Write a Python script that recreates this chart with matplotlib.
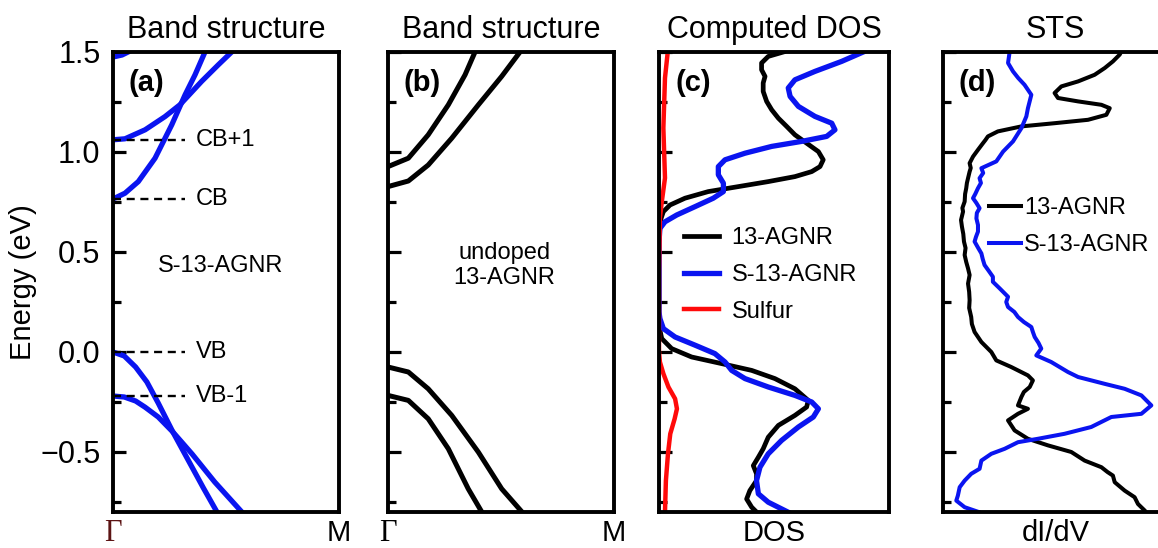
import matplotlib
matplotlib.use("Agg")
import matplotlib.pyplot as plt
from matplotlib.ticker import MultipleLocator, NullFormatter

plt.rcParams['font.family'] = ['Liberation Sans', 'DejaVu Sans']
plt.rcParams['axes.unicode_minus'] = True

# ---------------- data ----------------
# Panel (a): S-13-AGNR band structure (k from Gamma=0 to M=1, energy in eV)
a_vb_k = [0, 0.05, 0.10, 0.15, 0.20, 0.265, 0.33, 0.40, 0.46]
a_vb_e = [0, -0.02, -0.075, -0.15, -0.255, -0.40, -0.535, -0.68, -0.80]
a_vb1_k = [0, 0.05, 0.10, 0.142, 0.20, 0.265, 0.35, 0.45, 0.57]
a_vb1_e = [-0.22, -0.225, -0.245, -0.276, -0.325, -0.40, -0.51, -0.65, -0.80]
a_cb_k = [0, 0.053, 0.112, 0.186, 0.26, 0.319, 0.363, 0.407]
a_cb_e = [0.765, 0.794, 0.852, 0.969, 1.136, 1.286, 1.386, 1.50]
a_cb1_k = [0, 0.053, 0.142, 0.23, 0.296, 0.392, 0.466, 0.525]
a_cb1_e = [1.061, 1.066, 1.111, 1.177, 1.236, 1.353, 1.436, 1.50]
a_cb2_k = [0, 0.04, 0.085]
a_cb2_e = [1.475, 1.485, 1.51]
a_levels = [1.061, 0.765, 0.0, -0.22]
a_level_names = ["CB+1", "CB", "VB", "VB-1"]

# Panel (b): undoped 13-AGNR band structure
b_c1_k = [0, 0.09, 0.178, 0.267, 0.341, 0.385]
b_c1_e = [0.927, 0.969, 1.086, 1.236, 1.386, 1.50]
b_c2_k = [0, 0.09, 0.178, 0.282, 0.40, 0.503, 0.584]
b_c2_e = [0.827, 0.855, 0.935, 1.069, 1.236, 1.378, 1.50]
b_v1_k = [0, 0.09, 0.178, 0.282, 0.40, 0.503, 0.593]
b_v1_e = [-0.075, -0.10, -0.184, -0.317, -0.501, -0.684, -0.80]
b_v2_k = [0, 0.09, 0.178, 0.267, 0.355, 0.415]
b_v2_e = [-0.217, -0.242, -0.334, -0.484, -0.684, -0.80]

# Panel (c): computed DOS (arb. units) vs energy
c_agnr_e = [1.50, 1.478, 1.445, 1.411, 1.378, 1.345, 1.303, 1.253, 1.211, 1.169, 1.128,
            1.086, 1.044, 1.002, 0.961, 0.927, 0.902, 0.877, 0.852, 0.827, 0.802,
            0.769, 0.735, 0.702, 0.668, 0.626, 0.55, 0.20, 0.109, 0.067, 0.017,
            -0.025, -0.058, -0.092, -0.133, -0.184, -0.242, -0.275, -0.317, -0.367,
            -0.426, -0.484, -0.526, -0.568, -0.609, -0.643, -0.693, -0.735, -0.776, -0.80]
c_agnr_d = [0.541, 0.475, 0.446, 0.446, 0.461, 0.453, 0.453, 0.468, 0.49, 0.519, 0.555,
            0.591, 0.642, 0.693, 0.714, 0.70, 0.664, 0.591, 0.475, 0.345, 0.214,
            0.113, 0.048, 0.019, 0.009, 0.004, 0.0, 0.0, 0.004, 0.012, 0.055,
            0.142, 0.272, 0.403, 0.504, 0.591, 0.649, 0.642, 0.591, 0.519,
            0.475, 0.453, 0.432, 0.41, 0.424, 0.424, 0.395, 0.381, 0.403, 0.424]
c_s_e = [1.50, 1.453, 1.403, 1.361, 1.32, 1.278, 1.228, 1.178, 1.144, 1.111, 1.078,
         1.053, 1.028, 0.994, 0.961, 0.927, 0.886, 0.844, 0.802, 0.769, 0.727, 0.685,
         0.651, 0.618, 0.55, 0.20, 0.167, 0.117, 0.075, 0.034, -0.008, -0.05, -0.092,
         -0.133, -0.175, -0.217, -0.25, -0.284, -0.325, -0.375, -0.442, -0.509,
         -0.576, -0.643, -0.709, -0.751, -0.80]
c_s_d = [0.888, 0.794, 0.678, 0.591, 0.562, 0.57, 0.606, 0.678, 0.751, 0.765, 0.729,
         0.62, 0.49, 0.374, 0.287, 0.258, 0.258, 0.28, 0.28, 0.236, 0.157, 0.077,
         0.026, 0.004, 0.0, 0.0, 0.004, 0.019, 0.07, 0.157, 0.243, 0.287, 0.316,
         0.374, 0.475, 0.591, 0.664, 0.693, 0.671, 0.606, 0.533, 0.475,
         0.439, 0.424, 0.432, 0.475, 0.56]
c_sul_e = [1.50, 1.37, 1.12, 0.87, 0.75, 0.67, 0.40, 0.0, -0.05, -0.108, -0.175,
           -0.234, -0.284, -0.334, -0.409, -0.509, -0.643, -0.80]
c_sul_d = [0.038, 0.026, 0.019, 0.026, 0.012, 0.004, 0.0, 0.0, 0.004, 0.019, 0.041,
           0.07, 0.078, 0.068, 0.049, 0.039, 0.03, 0.026]

# Panel (d): STS dI/dV (arb. units) vs energy
d_agnr_e = [1.50, 1.487, 1.453, 1.42, 1.386, 1.353, 1.328, 1.295, 1.27, 1.253, 1.236,
            1.219, 1.186, 1.161, 1.144, 1.128, 1.103, 1.078, 1.06, 1.044, 1.011, 0.977,
            0.944, 0.92, 0.902, 0.869, 0.845, 0.819, 0.79, 0.752, 0.72, 0.702, 0.66,
            0.627, 0.59, 0.552, 0.52, 0.485, 0.45, 0.418, 0.385, 0.342, 0.30, 0.259,
            0.22, 0.175, 0.14, 0.10, 0.05, 0.0, -0.042, -0.075, -0.117, -0.142,
            -0.175, -0.20, -0.225, -0.267, -0.284, -0.309, -0.342, -0.392, -0.434,
            -0.467, -0.50, -0.543, -0.576, -0.60, -0.618, -0.651, -0.693, -0.726,
            -0.76, -0.793, -0.80]
d_agnr_d = [0.79, 0.784, 0.754, 0.718, 0.673, 0.60, 0.526, 0.496, 0.511, 0.60, 0.703,
            0.74, 0.725, 0.644, 0.496, 0.349, 0.245, 0.201, 0.19, 0.179, 0.157, 0.135,
            0.12, 0.125, 0.12, 0.113, 0.108, 0.105, 0.10, 0.098, 0.088, 0.091, 0.082,
            0.086, 0.092, 0.095, 0.102, 0.098, 0.105, 0.113, 0.12, 0.113, 0.118, 0.12,
            0.118, 0.127, 0.13, 0.142, 0.172, 0.216, 0.238, 0.304, 0.378, 0.40,
            0.386, 0.36, 0.349, 0.334, 0.378, 0.334, 0.29, 0.319, 0.378,
            0.467, 0.57, 0.629, 0.703, 0.73, 0.754, 0.762, 0.806, 0.85,
            0.865, 0.895, 0.90]
d_s_e = [1.50, 1.445, 1.403, 1.37, 1.336, 1.286, 1.25, 1.219, 1.178, 1.119, 1.053,
         1.002, 0.953, 0.919, 0.895, 0.869, 0.845, 0.819, 0.79, 0.769, 0.745, 0.719,
         0.695, 0.668, 0.635, 0.602, 0.575, 0.552, 0.52, 0.493, 0.465, 0.435, 0.405,
         0.376, 0.351, 0.318, 0.276, 0.25, 0.225, 0.20, 0.175, 0.15, 0.125, 0.10,
         0.075, 0.045, 0.017, -0.017, -0.05, -0.10, -0.125, -0.159, -0.184, -0.217,
         -0.267, -0.309, -0.325, -0.375, -0.409, -0.434, -0.451, -0.484, -0.509,
         -0.543, -0.584, -0.609, -0.643, -0.676, -0.718, -0.743, -0.776, -0.80]
d_s_d = [0.297, 0.29, 0.312, 0.335, 0.363, 0.393, 0.385, 0.378, 0.371, 0.349, 0.312,
         0.268, 0.238, 0.172, 0.18, 0.164, 0.17, 0.157, 0.145, 0.135, 0.15, 0.164,
         0.152, 0.15, 0.157, 0.157, 0.148, 0.142, 0.158, 0.172, 0.178, 0.186, 0.205,
         0.223, 0.223, 0.253, 0.29, 0.282, 0.29, 0.318, 0.334, 0.36, 0.393, 0.40,
         0.408, 0.425, 0.437, 0.415, 0.481, 0.555, 0.60, 0.717, 0.806, 0.88,
         0.924, 0.88, 0.747, 0.658, 0.54, 0.422, 0.334, 0.275, 0.216,
         0.172, 0.164, 0.127, 0.098, 0.076, 0.068, 0.061, 0.098, 0.16]

panel_titles = ["Band structure", "Band structure", "Computed DOS", "STS"]
panel_tags = ["(a)", "(b)", "(c)", "(d)"]

# ---------------- figure ----------------
W, H = 1158, 548
fig = plt.figure(figsize=(W / 100, H / 100), dpi=100)

def px_axes(left, width, top=52, bottom=512):
    return fig.add_axes([left / W, 1 - bottom / H, width / W, (bottom - top) / H])

axs = [px_axes(113, 226), px_axes(388, 226), px_axes(659, 230), px_axes(942.5, 226)]

BLUE = "#0a14f0"
ylo, yhi = -0.80, 1.50
for i, ax in enumerate(axs):
    ax.set_ylim(ylo, yhi)
    ax.set_xlim(0, 1)
    for s in ax.spines.values():
        s.set_linewidth(2.8)
    ax.yaxis.set_major_locator(MultipleLocator(0.5))
    ax.yaxis.set_minor_locator(MultipleLocator(0.25))
    ax.tick_params(axis='y', which='major', direction='in', length=9.5, width=2.3,
                   labelsize=22, right=False, pad=9)
    ax.tick_params(axis='y', which='minor', direction='in', length=5.5, width=2.3, right=False)
    ax.tick_params(axis='x', which='both', length=0, labelsize=21, pad=5)
    if i > 0:
        ax.yaxis.set_major_formatter(NullFormatter())
    ax.set_title(panel_titles[i], fontsize=22, pad=10)
    ax.text(0.07, 0.933, panel_tags[i], transform=ax.transAxes, fontsize=21,
            fontweight='bold', ha='left', va='center')

# (a)
ax = axs[0]
for k, e in [(a_vb_k, a_vb_e), (a_vb1_k, a_vb1_e), (a_cb_k, a_cb_e),
             (a_cb1_k, a_cb1_e), (a_cb2_k, a_cb2_e)]:
    ax.plot(k, e, color=BLUE, lw=3.8)
for lev, name in zip(a_levels, a_level_names):
    ax.plot([0, 0.32], [lev, lev], color='black', lw=1.7, linestyle=(0, (3.4, 2.4)))
    ax.text(0.365, lev, name, fontsize=17, ha='left', va='center')
ax.text(0.475, 0.432, "S-13-AGNR", fontsize=17, ha='center', va='center')
ax.set_ylabel("Energy (eV)", fontsize=21, labelpad=2)
ax.set_xticks([0, 1])
ax.set_xticklabels(["Γ", "M"])
tl = ax.get_xticklabels()
tl[0].set_fontfamily(['Liberation Serif', 'DejaVu Serif'])
tl[0].set_color('#5c1414')
tl[0].set_fontsize(22)

# (b)
ax = axs[1]
for k, e in [(b_c1_k, b_c1_e), (b_c2_k, b_c2_e), (b_v1_k, b_v1_e), (b_v2_k, b_v2_e)]:
    ax.plot(k, e, color='black', lw=3.6)
ax.text(0.515, 0.432, "undoped\n13-AGNR", fontsize=17, ha='center', va='center',
        linespacing=1.15)
ax.set_xticks([0, 1])
ax.set_xticklabels(["Γ", "M"])
tl = ax.get_xticklabels()
tl[0].set_fontfamily(['Liberation Serif', 'DejaVu Serif'])
tl[0].set_fontsize(22)

# (c)
ax = axs[2]
ax.plot(c_agnr_d, c_agnr_e, color='black', lw=3.4, label="13-AGNR")
ax.plot(c_s_d, c_s_e, color=BLUE, lw=3.8, label="S-13-AGNR")
ax.plot(c_sul_d, c_sul_e, color='#ff0a0a', lw=3.2, label="Sulfur")
ax.set_xticks([0.5])
ax.set_xticklabels(["DOS"])
ax.legend(loc='center left', bbox_to_anchor=(0.11, 0.515), frameon=False,
          fontsize=17, handlelength=1.45, handletextpad=0.55, labelspacing=0.62,
          borderpad=0, borderaxespad=0)

# (d)
ax = axs[3]
ax.plot(d_agnr_d, d_agnr_e, color='black', lw=2.9, label="13-AGNR")
ax.plot(d_s_d, d_s_e, color=BLUE, lw=2.9, label="S-13-AGNR")
ax.set_xticks([0.5])
ax.set_xticklabels(["dI/dV"])
ax.legend(loc='center left', bbox_to_anchor=(0.205, 0.62), frameon=False,
          fontsize=17, handlelength=1.35, handletextpad=0.15, labelspacing=0.62,
          borderpad=0, borderaxespad=0)

fig.savefig("out.png", dpi=100)
